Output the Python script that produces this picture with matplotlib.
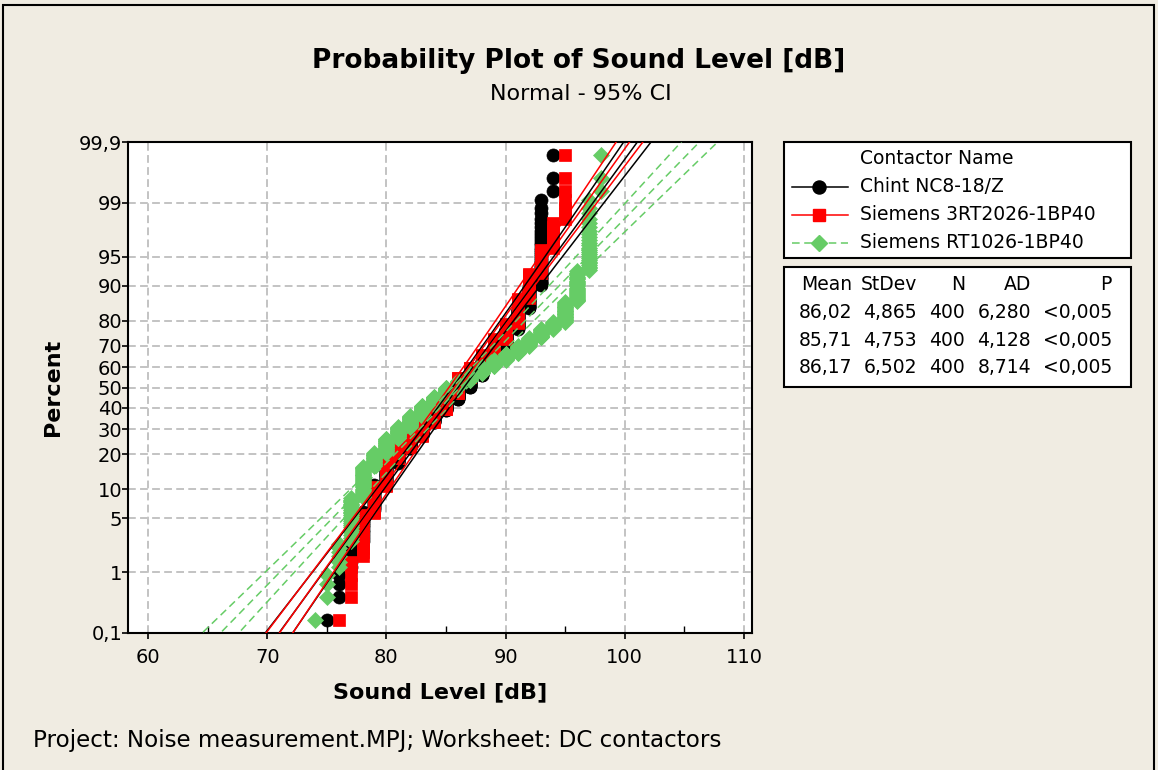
import numpy as np
import matplotlib
matplotlib.use("Agg")
import matplotlib.pyplot as plt
from matplotlib.lines import Line2D
from matplotlib.patches import Rectangle
from statistics import NormalDist

# ---------------- data ----------------
series_names = ["Chint NC8-18/Z", "Siemens 3RT2026-1BP40", "Siemens RT1026-1BP40"]

chint_levels = list(range(75, 95))
chint_counts = [1, 3, 6, 14, 20, 24, 20, 20, 24, 22, 22, 24, 24, 28, 28, 28, 28, 24, 37, 3]

s3rt_levels = list(range(76, 96))
s3rt_counts = [1, 5, 16, 20, 32, 16, 18, 24, 24, 32, 32, 20, 24, 28, 24, 32, 22, 14, 9, 7]

rt1026_levels = list(range(74, 99))
rt1026_counts = [1, 3, 6, 23, 31, 18, 22, 20, 20, 20, 18, 18, 14, 14, 14, 12, 12,
                 14, 14, 14, 10, 26, 28, 25, 3]

means = [86.02, 85.71, 86.17]
stdevs = [4.865, 4.753, 6.502]
n_obs = [400, 400, 400]
ad_vals = ["6,280", "4,128", "8,714"]
p_vals = ["<0,005", "<0,005", "<0,005"]

pct_ticks = [0.1, 1, 5, 10, 20, 30, 40, 50, 60, 70, 80, 90, 95, 99, 99.9]
pct_labels = ["0,1", "1", "5", "10", "20", "30", "40", "50", "60", "70", "80", "90", "95", "99", "99,9"]
x_ticks = [60, 70, 80, 90, 100, 110]

# ---------------- style ----------------
W, H = 1158, 770
BG = "#f0ece2"
GREEN = "#66cc66"
plt.rcParams["font.family"] = ["DejaVu Sans"]

def fx(px):
    return px / W

def fy(py):
    return 1 - py / H

nd = NormalDist()
fig = plt.figure(figsize=(W / 100, H / 100), dpi=100, facecolor=BG)

# outer frame
fig.add_artist(Rectangle((fx(3), fy(775)), fx(1154) - fx(3), fy(5) - fy(775),
                         transform=fig.transFigure, fill=False, ec="black", lw=1.5))

ax = fig.add_axes([fx(128), fy(633), fx(752) - fx(128), fy(142) - fy(633)])
ax.set_facecolor("white")
zlim = nd.inv_cdf(0.999)
ax.set_ylim(-zlim, zlim)
ax.set_xlim(60 - 20 / 11.92, 110 + 8 / 11.92)

ax.set_yticks([nd.inv_cdf(p / 100) for p in pct_ticks])
ax.set_yticklabels(pct_labels)
ax.set_xticks(x_ticks)
ax.set_xticks([65, 75, 85, 95, 105], minor=True)
ax.tick_params(axis="both", which="major", direction="out", length=4, width=1.2,
               labelsize=14)
ax.tick_params(axis="y", which="major", pad=0)
ax.tick_params(axis="x", which="major", pad=7)
ax.tick_params(axis="x", which="minor", direction="in", length=5, width=1.0)
ax.grid(True, which="major", color="#c3c3c3", lw=1.4, ls=(0, (4, 2.2)), zorder=0)
for sp in ax.spines.values():
    sp.set_linewidth(1.5)

ax.set_xlabel("Sound Level [dB]", fontsize=16, fontweight="bold", labelpad=11)
ax.set_ylabel("Percent", fontsize=16, fontweight="bold", labelpad=12)

# ---------------- points ----------------
series = [
    (chint_levels, chint_counts, "black", "o", 9.4, "-"),
    (s3rt_levels, s3rt_counts, "#ff0000", "s", 9.0, "-"),
    (rt1026_levels, rt1026_counts, GREEN, "D", 7.7, (0, (5, 3))),
]

for k, (lev, cnt, col, mk, ms, ls) in enumerate(series):
    vals = np.repeat(lev, cnt)
    n = len(vals)
    i = np.arange(1, n + 1)
    p = (i - 0.3) / (n + 0.4)
    z = np.array([nd.inv_cdf(v) for v in p])
    ax.plot(vals, z, ls="none", marker=mk, ms=ms, color=col, mec=col, mew=0.5,
            zorder=3 + k)

# ---------------- fit lines + 95% CI ----------------
zz = np.linspace(-3.4, 3.4, 300)
for k, (lev, cnt, col, mk, ms, ls) in enumerate(series):
    m, s, n = means[k], stdevs[k], n_obs[k]
    xf = m + s * zz
    se = s * np.sqrt((1 + zz ** 2 / 2) / n)
    for xx in (xf, xf - 1.96 * se, xf + 1.96 * se):
        ax.plot(xx, zz, color=col, lw=1.1, ls=ls, zorder=7 + k)

# ---------------- titles ----------------
fig.text(fx(579), fy(61), "Probability Plot of Sound Level [dB]", ha="center",
         va="center", fontsize=19, fontweight="bold")
fig.text(fx(581), fy(94), "Normal - 95% CI", ha="center", va="center", fontsize=16)
fig.text(fx(33), fy(740), "Project: Noise measurement.MPJ; Worksheet: DC contactors",
         ha="left", va="center", fontsize=16.6)

# ---------------- legend boxes ----------------
for (y0, y1) in ((142, 258), (267, 387)):
    fig.add_artist(Rectangle((fx(784), fy(y1)), fx(1131) - fx(784), fy(y0) - fy(y1),
                             transform=fig.transFigure, fc="white", ec="black", lw=1.5))

fig.text(fx(860), fy(158), "Contactor Name", ha="left", va="center", fontsize=13.5)
leg_y = [187, 215, 243]
for k, (lev, cnt, col, mk, ms, ls) in enumerate(series):
    fig.add_artist(Line2D([fx(792), fx(848)], [fy(leg_y[k])] * 2, transform=fig.transFigure,
                          color=col, lw=1.1, ls=ls))
    fig.add_artist(Line2D([fx(819)], [fy(leg_y[k])], transform=fig.transFigure,
                          color=col, marker=mk, ms=ms, mec=col, ls="none"))
    fig.text(fx(860), fy(leg_y[k]), series_names[k], ha="left", va="center", fontsize=13.5)

col_x = [852, 917, 965, 1031, 1112]
headers = ["Mean", "StDev", "N", "AD", "P"]
for j, h in enumerate(headers):
    fig.text(fx(col_x[j]), fy(285), h, ha="right", va="center", fontsize=13.5)
row_y = [313, 341, 368]
for k in range(3):
    cells = [f"{means[k]:.2f}".replace(".", ","), f"{stdevs[k]:.3f}".replace(".", ","),
             str(n_obs[k]), ad_vals[k], p_vals[k]]
    for j, c in enumerate(cells):
        fig.text(fx(col_x[j]), fy(row_y[k]), c, ha="right", va="center", fontsize=13.5)

fig.savefig("out.png", dpi=100, facecolor=BG)
